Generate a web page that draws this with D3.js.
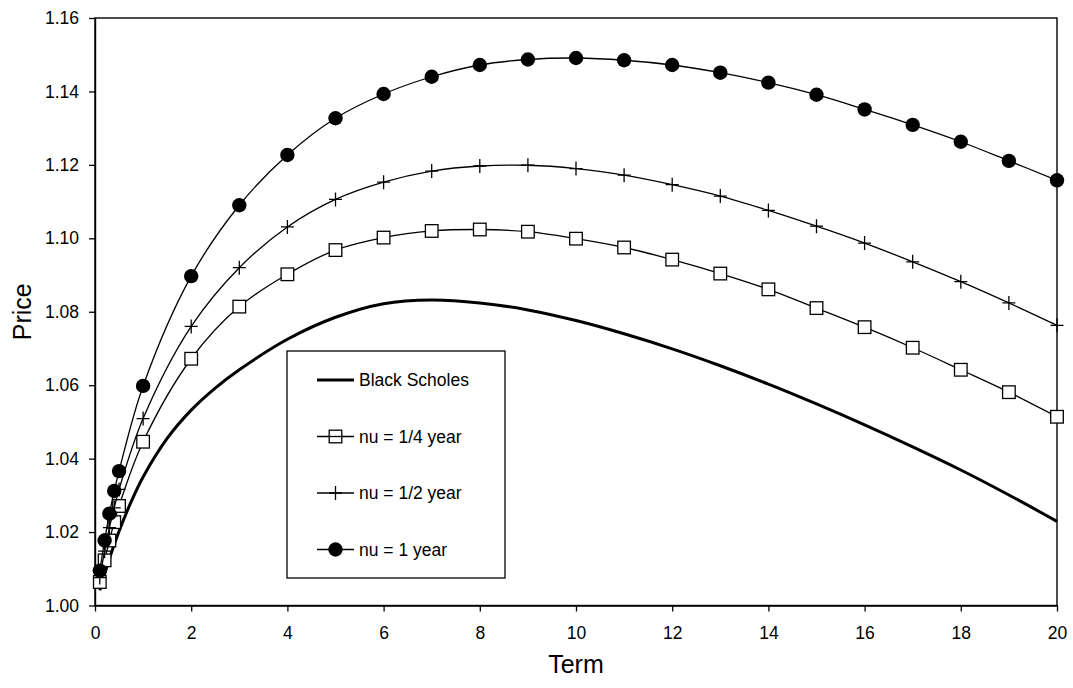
<!DOCTYPE html>
<html>
<head>
<meta charset="utf-8">
<script src="https://cdn.jsdelivr.net/npm/d3@7"></script>
<style>
  body { margin: 0; background: #fff; }
  svg { font-family: "Liberation Sans", Arial, sans-serif; }
</style>
</head>
<body>
<div id="chart"></div>
<script>
// Terms (years) where the nu series have markers
const terms = [0.1, 0.2, 0.3, 0.4, 0.5, 1, 2, 3, 4, 5, 6, 7, 8, 9, 10, 11, 12, 13, 14, 15, 16, 17, 18, 19, 20];

const nuQuarter = [1.0064, 1.0123, 1.0177, 1.0227, 1.0271, 1.0446, 1.0672, 1.0814, 1.0902, 1.0968, 1.1002, 1.1020, 1.1024,
    1.1018, 1.0999, 1.0975, 1.0942, 1.0904, 1.0861, 1.0810, 1.0758, 1.0702, 1.0642, 1.0581, 1.0514];
const nuHalf = [1.0076, 1.0148, 1.0212, 1.0266, 1.0316, 1.0509, 1.0760, 1.0920, 1.1031, 1.1106, 1.1153, 1.1183, 1.1197,
    1.1199, 1.1190, 1.1172, 1.1146, 1.1115, 1.1076, 1.1033, 1.0987, 1.0936, 1.0882, 1.0824, 1.0763];
const nuOne = [1.0095, 1.0177, 1.0250, 1.0312, 1.0366, 1.0598, 1.0897, 1.1090, 1.1227, 1.1327, 1.1393, 1.1440, 1.1472,
    1.1487, 1.1491, 1.1485, 1.1472, 1.1451, 1.1424, 1.1391, 1.1351, 1.1309, 1.1263, 1.1211, 1.1158];

// Black Scholes curve, no markers
const bsTerms = [0.1, 0.25, 0.5, 0.75, 1, 1.5, 2, 2.5, 3, 4, 5, 6, 7, 8, 9, 10, 11, 12, 13, 14, 15, 16, 17, 18, 19, 20];
const bsPrice = [1.0041, 1.0107, 1.0202, 1.0282, 1.0350, 1.0455, 1.0532, 1.0592, 1.0642, 1.0725, 1.0785, 1.0822, 1.0832,
    1.0824, 1.0805, 1.0776, 1.0740, 1.0699, 1.0653, 1.0603, 1.0549, 1.0492, 1.0432, 1.0369, 1.0301, 1.0229];

const xTicks = [0, 2, 4, 6, 8, 10, 12, 14, 16, 18, 20];
const yTicks = [1.00, 1.02, 1.04, 1.06, 1.08, 1.10, 1.12, 1.14, 1.16];

const legendLabels = ["Black Scholes", "nu = 1/4 year", "nu = 1/2 year", "nu = 1 year"];

let width = 1073;
let height = 688;
let margin = { top: 18, right: 16, bottom: 82.5, left: 95 };

let svg = d3.select("#chart")
    .append("svg")
    .attr("width", width)
    .attr("height", height);

let x = d3.scaleLinear()
    .domain([0, 20])
    .range([margin.left, width - margin.right]);

let y = d3.scaleLinear()
    .domain([1.0, 1.16])
    .range([height - margin.bottom, margin.top]);

// frame
svg.append("rect")
    .attr("x", x(0))
    .attr("y", y(1.16))
    .attr("width", x(20) - x(0))
    .attr("height", y(1.0) - y(1.16))
    .attr("fill", "none")
    .attr("stroke", "#000")
    .attr("stroke-width", 1.4);

let xAxis = (g) =>
    g.attr("transform", `translate(0,${y(1.0)})`)
        .call(d3.axisBottom(x).tickValues(xTicks).tickSize(6).tickPadding(15).tickSizeOuter(0))
        .call((g) => g.select(".domain").attr("stroke-width", 1.4))
        .call((g) => g.selectAll(".tick line").attr("stroke-width", 1.3))
        .call((g) => g.selectAll("text").attr("font-size", "17.5px").attr("fill", "#000"));

let yAxis = (g) =>
    g.attr("transform", `translate(${x(0)},0)`)
        .call(d3.axisLeft(y).tickValues(yTicks).tickFormat(d3.format(".2f")).tickSize(6).tickPadding(10).tickSizeOuter(0))
        .call((g) => g.select(".domain").attr("stroke-width", 1.4))
        .call((g) => g.selectAll(".tick line").attr("stroke-width", 1.3))
        .call((g) => g.selectAll("text").attr("font-size", "17.5px").attr("fill", "#000"));

svg.append("g").call(xAxis);
svg.append("g").call(yAxis);

// axis titles
svg.append("text")
    .attr("x", (x(0) + x(20)) / 2)
    .attr("y", 673)
    .attr("text-anchor", "middle")
    .attr("font-size", "25px")
    .text("Term");

svg.append("text")
    .attr("transform", `translate(31,${(y(1.0) + y(1.16)) / 2}) rotate(-90)`)
    .attr("text-anchor", "middle")
    .attr("font-size", "25px")
    .text("Price");

let line = d3.line()
    .x((d) => x(d[0]))
    .y((d) => y(d[1]))
    .curve(d3.curveCatmullRom.alpha(0.5));

// Black Scholes
svg.append("path")
    .datum(bsTerms.map((t, i) => [t, bsPrice[i]]))
    .attr("d", line)
    .attr("fill", "none")
    .attr("stroke", "#000")
    .attr("stroke-width", 3);

let series = [
    { values: nuQuarter, marker: "square" },
    { values: nuHalf, marker: "cross" },
    { values: nuOne, marker: "circle" }
];

// draw one marker at (cx, cy)
function drawMarker(g, kind, cx, cy) {
    if (kind === "square") {
        g.append("rect")
            .attr("x", cx - 6.3)
            .attr("y", cy - 6.3)
            .attr("width", 12.6)
            .attr("height", 12.6)
            .attr("fill", "#fff")
            .attr("stroke", "#000")
            .attr("stroke-width", 1.3);
    } else if (kind === "cross") {
        g.append("path")
            .attr("d", `M${cx - 6.5},${cy}H${cx + 6.5}M${cx},${cy - 7}V${cy + 7}`)
            .attr("stroke", "#000")
            .attr("stroke-width", 1.3);
    } else {
        g.append("circle")
            .attr("cx", cx)
            .attr("cy", cy)
            .attr("r", 7.2)
            .attr("fill", "#000");
    }
}

series.forEach((s) => {
    let pts = terms.map((t, i) => [t, s.values[i]]);
    svg.append("path")
        .datum(pts)
        .attr("d", line)
        .attr("fill", "none")
        .attr("stroke", "#000")
        .attr("stroke-width", 1.3);
    let g = svg.append("g");
    pts.forEach((p) => drawMarker(g, s.marker, x(p[0]), y(p[1])));
});

// Handmade legend
let lg = svg.append("g");
lg.append("rect")
    .attr("x", 287)
    .attr("y", 351)
    .attr("width", 218)
    .attr("height", 227)
    .attr("fill", "#fff")
    .attr("stroke", "#000")
    .attr("stroke-width", 1.3);

let markers = [null, "square", "cross", "circle"];
legendLabels.forEach((label, i) => {
    let ly = 380 + i * 56.5;
    lg.append("line")
        .attr("x1", 317)
        .attr("x2", 354)
        .attr("y1", ly)
        .attr("y2", ly)
        .attr("stroke", "#000")
        .attr("stroke-width", i === 0 ? 3 : 1.3);
    if (markers[i]) drawMarker(lg, markers[i], 335.5, ly);
    if (markers[i] === "square") {
        lg.append("line")
            .attr("x1", 329)
            .attr("x2", 342)
            .attr("y1", ly)
            .attr("y2", ly)
            .attr("stroke", "#000")
            .attr("stroke-width", 1.3);
    }
    lg.append("text")
        .attr("x", 359)
        .attr("y", ly)
        .attr("dy", "0.36em")
        .attr("font-size", "17.5px")
        .text(label);
});
</script>
</body>
</html>
